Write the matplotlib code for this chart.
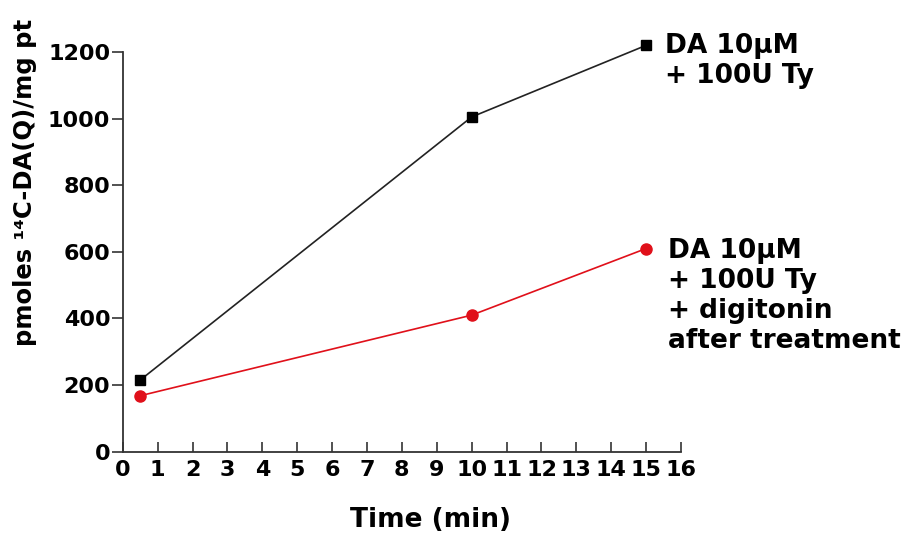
import matplotlib
matplotlib.use("Agg")
import matplotlib.pyplot as plt

time_ctrl = [0.5, 10, 15]
val_ctrl = [215, 1005, 1220]
time_dig = [0.5, 10, 15]
val_dig = [168, 410, 610]
xticks = list(range(0, 17))
yticks = [0, 200, 400, 600, 800, 1000, 1200]
label_ctrl = "DA 10\u00b5M\n+ 100U Ty"
label_dig = "DA 10\u00b5M\n+ 100U Ty\n+ digitonin\nafter treatment"

plt.rcParams['font.family'] = ['DejaVu Sans']
plt.rcParams['font.weight'] = 'bold'

W, H = 905, 534
fig = plt.figure(figsize=(W / 100, H / 100), dpi=100)
ax = fig.add_axes([0.1356, 0.1541, 0.7525 - 0.1356, 0.9026 - 0.1541])

ax.plot(time_ctrl, val_ctrl, color='#222222', lw=1.2, marker='s', ms=7,
        mfc='black', mec='black', clip_on=False, zorder=3)
ax.plot(time_dig, val_dig, color='#e0101a', lw=1.2, marker='o', ms=8,
        mfc='#e0101a', mec='#e0101a', clip_on=False, zorder=3)

ax.set_xlim(0, 16)
ax.set_ylim(0, 1200)
ax.set_xticks(xticks)
ax.set_yticks(yticks)
ax.set_xticklabels([str(t) for t in xticks], fontsize=16, fontweight='bold')
ax.set_yticklabels([str(t) for t in yticks], fontsize=16, fontweight='bold')
ax.tick_params(axis='x', direction='in', length=7, width=1.2, pad=6, colors='#333333', labelcolor='black')
ax.tick_params(axis='y', direction='out', length=8, width=1.2, pad=1, colors='#333333', labelcolor='black')
for s in ['top', 'right']:
    ax.spines[s].set_visible(False)
for s in ['left', 'bottom']:
    ax.spines[s].set_color('#333333')
    ax.spines[s].set_linewidth(1.3)

fig.text(430 / W, 1 - 520 / H, "Time (min)", fontsize=19, fontweight='bold',
         ha='center', va='center')
fig.text(25 / W, 1 - 182 / H, "pmoles \u00b9\u2074C-DA(Q)/mg pt", fontsize=17.5,
         fontweight='bold', rotation=90, ha='center', va='center')

ax.text(15.55, 1258, label_ctrl, fontsize=19, fontweight='bold', va='top', ha='left',
        linespacing=1.2)
ax.text(15.62, 642, label_dig, fontsize=19, fontweight='bold', va='top', ha='left',
        linespacing=1.2)

fig.savefig("out.png", dpi=100)
